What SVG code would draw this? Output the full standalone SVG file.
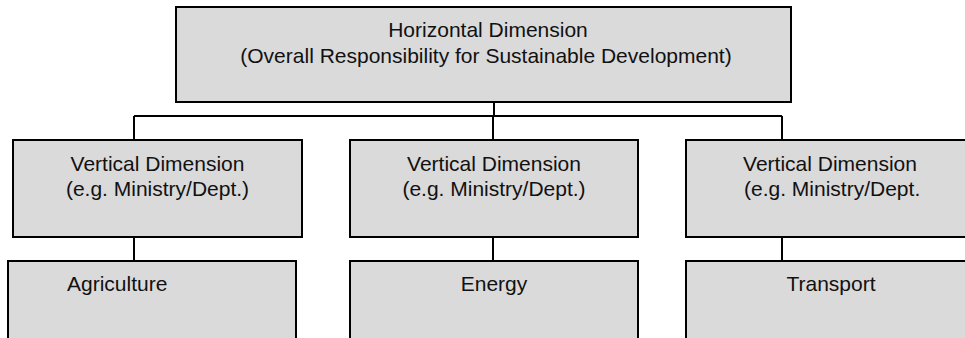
<svg xmlns="http://www.w3.org/2000/svg" width="965" height="338" viewBox="0 0 965 338">
  <style>
    .box { fill: #dadada; stroke: #000; stroke-width: 2; }
    .lbl { font-family: "Liberation Sans", Arial, sans-serif; font-size: 21px; fill: #111; }
    .mid { text-anchor: middle; }
    .wire { fill: none; stroke: #000; stroke-width: 2; }
  </style>
  <rect width="965" height="338" fill="#fff"/>

  <!-- connectors -->
  <g id="connectors">
    <path class="wire" d="M494 102 V116 M134 116 H782 M134 116 V140 M493 116 V140 M782 116 V140"/>
    <path class="wire" d="M134 237 V261 M493 237 V261 M782 237 V261"/>
  </g>

  <!-- top level -->
  <g id="horizontal">
    <rect class="box" x="176" y="7" width="615" height="95"/>
    <text class="lbl mid" x="488" y="37">Horizontal Dimension</text>
    <text class="lbl mid" x="486" y="63">(Overall Responsibility for Sustainable Development)</text>
  </g>

  <!-- middle level -->
  <g id="vertical-1">
    <rect class="box" x="13" y="140" width="289" height="97"/>
    <text class="lbl mid" x="157.5" y="171">Vertical Dimension</text>
    <text class="lbl mid" x="157.5" y="196">(e.g. Ministry/Dept.)</text>
  </g>
  <g id="vertical-2">
    <rect class="box" x="350" y="140" width="288" height="97"/>
    <text class="lbl mid" x="494" y="171">Vertical Dimension</text>
    <text class="lbl mid" x="494" y="196">(e.g. Ministry/Dept.)</text>
  </g>
  <g id="vertical-3">
    <rect class="box" x="686" y="140" width="289" height="97"/>
    <text class="lbl mid" x="830" y="171">Vertical Dimension</text>
    <text class="lbl" x="744" y="196">(e.g. Ministry/Dept.</text>
  </g>

  <!-- bottom level -->
  <g id="agriculture">
    <rect class="box" x="8" y="261" width="288" height="90"/>
    <text class="lbl" x="67" y="291">Agriculture</text>
  </g>
  <g id="energy">
    <rect class="box" x="350" y="261" width="288" height="90"/>
    <text class="lbl mid" x="494" y="291">Energy</text>
  </g>
  <g id="transport">
    <rect class="box" x="686" y="261" width="289" height="90"/>
    <text class="lbl mid" x="831" y="291">Transport</text>
  </g>
</svg>
